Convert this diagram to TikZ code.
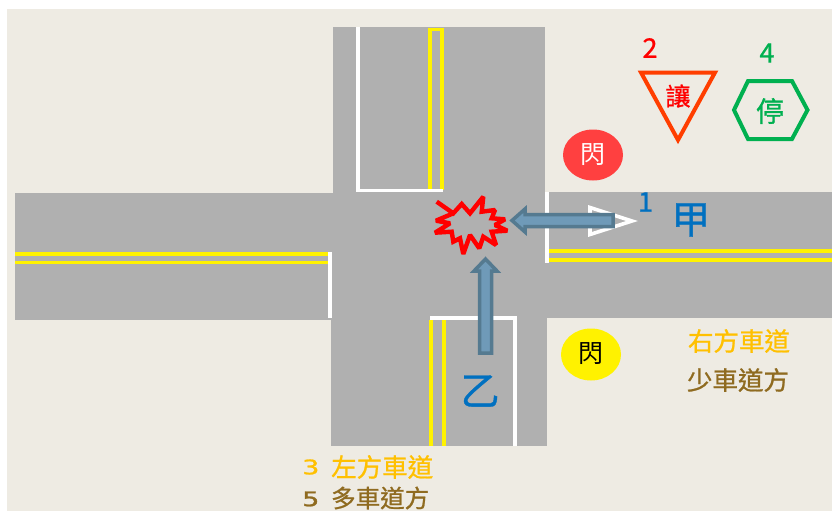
\documentclass[tikz,border=0pt]{standalone}
\usepackage{graphicx}
\usepackage{fontspec}
\setmainfont{Noto Sans CJK TC}
\newfontfamily\semib[FakeBold=0.9]{Noto Sans CJK TC}
\newfontfamily\digitf[FakeBold=1.2]{DejaVu Sans}
\definecolor{bg}{HTML}{EEEBE3}
\definecolor{road}{HTML}{B0B0B0}
\definecolor{lane}{HTML}{FFF200}
\definecolor{arrowfill}{HTML}{6F9AB8}
\definecolor{arrowline}{HTML}{557A90}
\definecolor{blueT}{HTML}{0070C0}
\definecolor{greenT}{HTML}{00B050}
\definecolor{amberT}{HTML}{FFC000}
\definecolor{brownT}{HTML}{8F6B20}
\definecolor{signred}{HTML}{FF3E00}
\definecolor{flashred}{HTML}{FF4040}
\tikzset{
  x=1pt,y=-1pt,
  whiteline/.style={draw=white,line width=3.6pt},
  yellowline/.style={draw=lane,line width=3.6pt},
  label/.style={inner sep=0pt,anchor=center},
  bigarrow/.style={fill=arrowfill,draw=arrowline,line width=3.5pt,line join=miter},
  px/.style={font=\fontsize{#1}{#1}\selectfont}
}
\begin{document}
\begin{tikzpicture}
\useasboundingbox (0,0) rectangle (832,511);
\fill[white] (0,0) rectangle (832,511);
\fill[bg] (7,9) rectangle (832,511);
% roads
\fill[road] (333,27) rectangle (545,193);
\fill[road] (15,193) rectangle (547,320);
\fill[road] (331,318) rectangle (547,446);
\fill[road] (545,192) rectangle (832,318);
% north
\draw[yellowline] (430,190) -- (430,29.5) -- (442,29.5) -- (442,190);
\draw[whiteline] (358,27) -- (358,190.5) -- (443,190.5);
% west
\draw[yellowline] (15,254) -- (329,254);
\draw[yellowline] (15,262.5) -- (329,262.5);
\draw[whiteline] (330,252) -- (330,318);
% east
\draw[yellowline] (549,251) -- (832,251);
\draw[yellowline] (549,260) -- (832,260);
\draw[whiteline] (547,192) -- (547,263);
% south
\draw[yellowline] (431,320) -- (431,446);
\draw[yellowline] (444,320) -- (444,446);
\draw[whiteline] (430,318) -- (515,318) -- (515,446);
% white triangle
\draw[draw=white,line width=3.6pt,line join=miter] (590,207.5) -- (632,221) -- (590,234.5) -- cycle;
% burst
\draw[red,line width=4.4pt,line join=miter,miter limit=1.8]
 (436.7,201.7) -- (453.3,213.3) -- (461.7,204) -- (470,213.3) -- (483.3,196.7)
 -- (481.7,211.7) -- (495,210) -- (491.7,218.3) -- (505,219.3) -- (495,225)
 -- (507.3,230.7) -- (491.7,231.7) -- (496,245) -- (483.3,236.7) -- (479.3,248.3)
 -- (470,235) -- (463.3,254) -- (460,238.3) -- (453.3,241.7) -- (451.7,231.7)
 -- (435,232.7) -- (450,223.3) -- (436,220.7) -- (453.3,213.3);
% arrows
\draw[bigarrow] (613,214.5) -- (525,214.5) -- (525,209) -- (512,220.5) -- (525,232) -- (525,226.5) -- (613,226.5) -- cycle;
\draw[bigarrow] (479.5,353) -- (479.5,271) -- (474,271) -- (485.5,259) -- (497,271) -- (491.5,271) -- (491.5,353) -- cycle;
% signs
\draw[signred,line width=4pt,line join=miter] (641,72.5) -- (715,72.5) -- (678,140) -- cycle;
\draw[greenT,line width=4pt,line join=miter] (734,110) -- (748,81) -- (792,81) -- (807.5,110) -- (792,139) -- (748,139) -- cycle;
\fill[flashred] (593,155) ellipse [x radius=30,y radius=25.5];
\fill[yellow] (591,354.5) ellipse [x radius=30,y radius=26];
% text
\node[label,px=25,text=red] (yield) at (678,96) {\semib 讓};
\node[label,px=28,text=greenT] (stop) at (770,111) {\semib 停};
\node[label,px=25,text=white] (flashr) at (593,155) {閃};
\node[label,px=25,text=black] (flashy) at (591,354) {閃};
\node[label,px=27,text=red] (n2) at (650,48) {\semib 2};
\node[label,px=27,text=greenT] (n4) at (767,53) {\semib 4};
\node[label,px=27,text=blueT] (n1) at (645.5,202) {\semib 1};
\node[label,px=39,text=blueT] (jia) at (691,220) {\semib 甲};
\node[label,px=39,text=blueT] (yi) at (480,391) {\semib 乙};
\node[label,px=25.5,text=amberT] (right1) at (739,341) {\semib 右方車道};
\node[label,px=25.5,text=brownT] (right2) at (738,380) {\semib 少車道方};
\node[label,px=20,text=amberT,anchor=west] (d3) at (302,467) {\scalebox{1.35}[1]{\digitf 3}};
\node[label,px=25.5,text=amberT,anchor=west] (left1) at (331,467) {\semib 左方車道};
\node[label,px=20,text=brownT,anchor=west] (d5) at (302,499) {\scalebox{1.35}[1]{\digitf 5}};
\node[label,px=24.5,text=brownT,anchor=west] (left2) at (331,498) {\semib 多車道方};
\end{tikzpicture}
\end{document}
